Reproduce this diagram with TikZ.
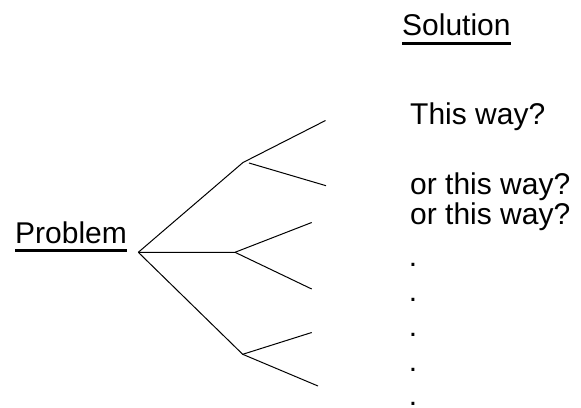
\documentclass[tikz,border=0pt]{standalone}
\usepackage{fontspec}
\setmainfont{Liberation Sans}
\begin{document}
\begin{tikzpicture}[x=1pt,y=-1pt,
  lbl/.style={anchor=base west,inner sep=0pt,font=\fontsize{30}{36}\selectfont},
  branch/.style={line width=1pt,black},
  uline/.style={line width=2.6pt,black}]
\useasboundingbox[fill=white] (0,0) rectangle (581,407);
% labels
\node[lbl] (problem) at (15,243) {Problem};
\node[lbl] (solution) at (402,35.7) {Solution};
\draw[uline] ([yshift=-7.5pt]problem.base west) -- ([yshift=-7.5pt]problem.base east);
\draw[uline] ([yshift=-7.5pt]solution.base west) -- ([yshift=-7.5pt]solution.base east);
\node[lbl] (way1) at (410,124.5) {This way?};
\node[lbl] (way2) at (410,194.5) {or this way?};
\node[lbl] (way3) at (410,224.5) {or this way?};
\node[lbl] (d1) at (408.7,266.5) {.};
\node[lbl] (d2) at (408.7,301.5) {.};
\node[lbl] (d3) at (408.7,336.5) {.};
\node[lbl] (d4) at (408.7,371.5) {.};
\node[lbl] (d5) at (408.7,405) {.};
% tree
\coordinate (root) at (138.3,252.3);
\coordinate (nA) at (243,162.5);
\coordinate (nAs) at (249,163);
\coordinate (nB) at (235,252.3);
\coordinate (nC) at (242.7,354.3);
\coordinate (eA1) at (325.5,120.5);
\coordinate (eA2) at (326,185.7);
\coordinate (eB1) at (311.7,222.5);
\coordinate (eB2) at (311.7,289);
\coordinate (eC1) at (311.7,332.5);
\coordinate (eC2) at (318,386);
\draw[branch] (root) -- (nA) -- (eA1);
\draw[branch] (nAs) -- (eA2);
\draw[branch] (root) -- (nB) -- (eB1);
\draw[branch] (nB) -- (eB2);
\draw[branch] (root) -- (nC) -- (eC1);
\draw[branch] (nC) -- (eC2);
\end{tikzpicture}
\end{document}
